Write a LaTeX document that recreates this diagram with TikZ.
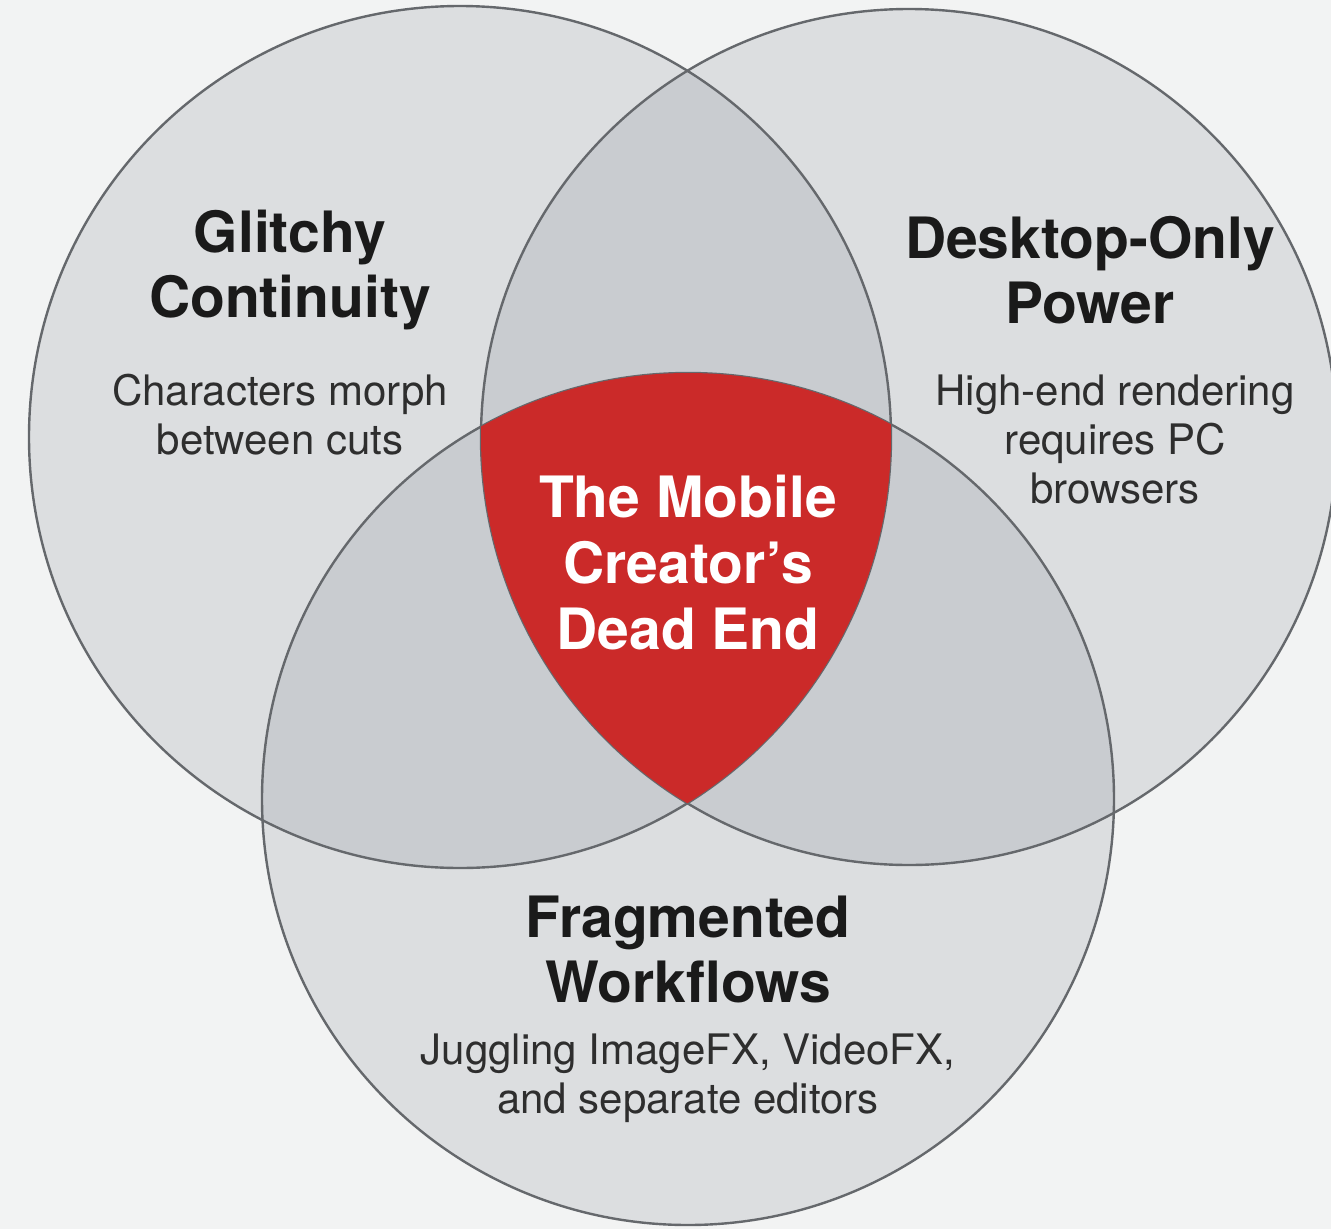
\documentclass[tikz,border=0pt]{standalone}
\usepackage{fontspec}
\setmainfont{TeX Gyre Heros}
\definecolor{bgc}{HTML}{F2F3F3}
\definecolor{onec}{HTML}{DCDEE0}
\definecolor{twoc}{HTML}{C9CCD0}
\definecolor{linec}{HTML}{65686C}
\definecolor{redc}{HTML}{CB2A29}
\definecolor{titlec}{HTML}{1A1A1A}
\definecolor{bodyc}{HTML}{2E2E2E}
\tikzset{
  titletext/.style={align=center, text=titlec, font=\fontsize{57}{65}\selectfont\bfseries, inner sep=0pt},
  bodytext/.style={align=center, text=bodyc, font=\fontsize{42}{49}\selectfont, inner sep=0pt},
  centertext/.style={align=center, text=white, font=\fontsize{57}{66}\selectfont\bfseries, inner sep=0pt},
  ring/.style={draw=linec, line width=2.4pt}
}
\begin{document}
\begin{tikzpicture}[x=1pt,y=-1pt]
\useasboundingbox (0,0) rectangle (1331,1229);
\fill[bgc] (0,0) rectangle (1331,1229);
\coordinate (cl) at (460,437);
\coordinate (cr) at (909,437);
\coordinate (cb) at (688,799);
% single fills
\fill[onec] (cl) circle[radius=431pt];
\fill[onec] (cr) circle[radius=428pt];
\fill[onec] (cb) circle[radius=426pt];
% double overlaps
\begin{scope}
  \clip (cl) circle[radius=431pt];
  \fill[twoc] (cr) circle[radius=428pt];
  \fill[twoc] (cb) circle[radius=426pt];
\end{scope}
\begin{scope}
  \clip (cr) circle[radius=428pt];
  \fill[twoc] (cb) circle[radius=426pt];
\end{scope}
% outlines
\draw[ring] (cl) circle[radius=431pt];
\draw[ring] (cr) circle[radius=428pt];
\draw[ring] (cb) circle[radius=426pt];
% triple overlap
\begin{scope}
  \clip (cl) circle[radius=431pt];
  \clip (cr) circle[radius=428pt];
  \fill[redc] (cb) circle[radius=426pt];
\end{scope}
% texts
\node[titletext] (t1) at (290,270) {Glitchy\\Continuity};
\node[bodytext] (b1) at (280,415) {Characters morph\\between cuts};
\node[titletext] (t2) at (1090,270) {Desktop-Only\\Power};
\node[bodytext] (b2) at (1115,439) {High-end rendering\\requires PC\\browsers};
\node[centertext] (t0) at (688,563) {The Mobile\\Creator's\\Dead End};
\node[titletext] (t3) at (688,949) {Fragmented\\Workflows};
\node[bodytext] (b3) at (688,1078) {Juggling ImageFX, VideoFX,\\and separate editors};
\end{tikzpicture}
\end{document}
